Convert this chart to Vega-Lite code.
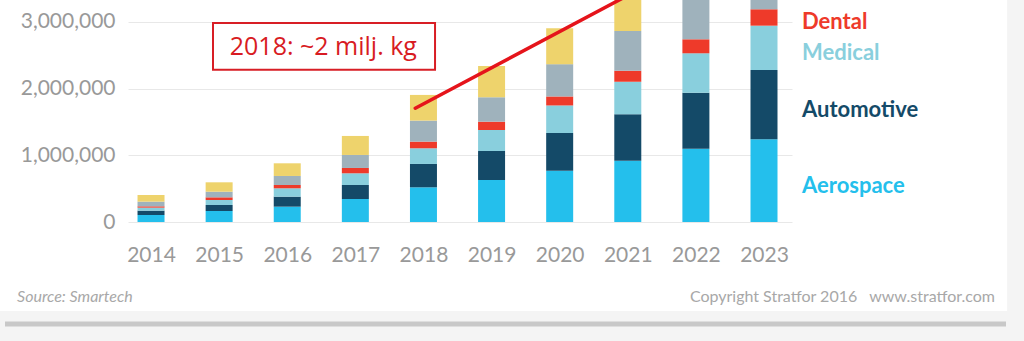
{
  "$schema": "https://vega.github.io/schema/vega-lite/v6.json",
  "width": 664,
  "height": 222,
  "autosize": {"type": "none"},
  "padding": {"left": 128, "top": 0, "right": 232, "bottom": 119},
  "background": "#ffffff",
  "config": {"view": {"stroke": null}, "font": "Lato"},
  "datasets": {
    "demand": [
      {"year": 2014, "segment": "Aerospace", "order": 1, "value": 105000},
      {"year": 2014, "segment": "Automotive", "order": 2, "value": 65000},
      {"year": 2014, "segment": "Medical", "order": 3, "value": 45000},
      {"year": 2014, "segment": "Dental", "order": 4, "value": 20000},
      {"year": 2014, "segment": "Industrial", "order": 5, "value": 70000},
      {"year": 2014, "segment": "Other", "order": 6, "value": 100000},
      {"year": 2015, "segment": "Aerospace", "order": 1, "value": 165000},
      {"year": 2015, "segment": "Automotive", "order": 2, "value": 90000},
      {"year": 2015, "segment": "Medical", "order": 3, "value": 75000},
      {"year": 2015, "segment": "Dental", "order": 4, "value": 40000},
      {"year": 2015, "segment": "Industrial", "order": 5, "value": 84000},
      {"year": 2015, "segment": "Other", "order": 6, "value": 141000},
      {"year": 2016, "segment": "Aerospace", "order": 1, "value": 230000},
      {"year": 2016, "segment": "Automotive", "order": 2, "value": 150000},
      {"year": 2016, "segment": "Medical", "order": 3, "value": 125000},
      {"year": 2016, "segment": "Dental", "order": 4, "value": 50000},
      {"year": 2016, "segment": "Industrial", "order": 5, "value": 135000},
      {"year": 2016, "segment": "Other", "order": 6, "value": 190000},
      {"year": 2017, "segment": "Aerospace", "order": 1, "value": 345000},
      {"year": 2017, "segment": "Automotive", "order": 2, "value": 210000},
      {"year": 2017, "segment": "Medical", "order": 3, "value": 175000},
      {"year": 2017, "segment": "Dental", "order": 4, "value": 80000},
      {"year": 2017, "segment": "Industrial", "order": 5, "value": 195000},
      {"year": 2017, "segment": "Other", "order": 6, "value": 285000},
      {"year": 2018, "segment": "Aerospace", "order": 1, "value": 520000},
      {"year": 2018, "segment": "Automotive", "order": 2, "value": 350000},
      {"year": 2018, "segment": "Medical", "order": 3, "value": 235000},
      {"year": 2018, "segment": "Dental", "order": 4, "value": 100000},
      {"year": 2018, "segment": "Industrial", "order": 5, "value": 315000},
      {"year": 2018, "segment": "Other", "order": 6, "value": 385000},
      {"year": 2019, "segment": "Aerospace", "order": 1, "value": 630000},
      {"year": 2019, "segment": "Automotive", "order": 2, "value": 434000},
      {"year": 2019, "segment": "Medical", "order": 3, "value": 315000},
      {"year": 2019, "segment": "Dental", "order": 4, "value": 125000},
      {"year": 2019, "segment": "Industrial", "order": 5, "value": 366000},
      {"year": 2019, "segment": "Other", "order": 6, "value": 469000},
      {"year": 2020, "segment": "Aerospace", "order": 1, "value": 768000},
      {"year": 2020, "segment": "Automotive", "order": 2, "value": 566000},
      {"year": 2020, "segment": "Medical", "order": 3, "value": 413000},
      {"year": 2020, "segment": "Dental", "order": 4, "value": 135000},
      {"year": 2020, "segment": "Industrial", "order": 5, "value": 484000},
      {"year": 2020, "segment": "Other", "order": 6, "value": 538000},
      {"year": 2021, "segment": "Aerospace", "order": 1, "value": 919000},
      {"year": 2021, "segment": "Automotive", "order": 2, "value": 696000},
      {"year": 2021, "segment": "Medical", "order": 3, "value": 488000},
      {"year": 2021, "segment": "Dental", "order": 4, "value": 165000},
      {"year": 2021, "segment": "Industrial", "order": 5, "value": 596000},
      {"year": 2021, "segment": "Other", "order": 6, "value": 650000},
      {"year": 2022, "segment": "Aerospace", "order": 1, "value": 1099000},
      {"year": 2022, "segment": "Automotive", "order": 2, "value": 840000},
      {"year": 2022, "segment": "Medical", "order": 3, "value": 590000},
      {"year": 2022, "segment": "Dental", "order": 4, "value": 210000},
      {"year": 2022, "segment": "Industrial", "order": 5, "value": 720000},
      {"year": 2022, "segment": "Other", "order": 6, "value": 760000},
      {"year": 2023, "segment": "Aerospace", "order": 1, "value": 1240000},
      {"year": 2023, "segment": "Automotive", "order": 2, "value": 1039000},
      {"year": 2023, "segment": "Medical", "order": 3, "value": 664000},
      {"year": 2023, "segment": "Dental", "order": 4, "value": 246000},
      {"year": 2023, "segment": "Industrial", "order": 5, "value": 850000},
      {"year": 2023, "segment": "Other", "order": 6, "value": 880000}
    ],
    "trend": [
      {"year": 2017.88, "value": 1705000},
      {"year": 2021.27, "value": 3543000}
    ]
  },
  "layer": [
    {
      "data": {"values": [{}]},
      "mark": {"type": "rect", "fill": "#f4f4f4", "clip": false},
      "encoding": {
        "x": {"datum": 2011.5, "type": "quantitative"},
        "x2": {"datum": 2027.2},
        "y": {"datum": -1334000, "type": "quantitative"},
        "y2": {"datum": -1950000}
      }
    },
    {
      "data": {"values": [{}]},
      "mark": {"type": "rect", "fill": "#f4f4f4", "clip": false},
      "encoding": {
        "x": {"datum": 2026.57, "type": "quantitative"},
        "x2": {"datum": 2027.2},
        "y": {"datum": 3600000, "type": "quantitative"},
        "y2": {"datum": -1950000}
      }
    },
    {
      "data": {"name": "demand"},
      "mark": {"type": "bar", "width": 27, "clip": true},
      "encoding": {
        "x": {
          "field": "year",
          "type": "quantitative",
          "scale": {"domain": [2013.662, 2023.411], "nice": false, "zero": false, "padding": 0},
          "axis": {
            "values": [2014, 2015, 2016, 2017, 2018, 2019, 2020, 2021, 2022, 2023],
            "format": "d",
            "title": null,
            "domain": false,
            "ticks": false,
            "grid": false,
            "labelFont": "Lato",
            "labelFontSize": 21,
            "labelColor": "#999999",
            "labelPadding": 22,
            "labelFlush": false,
            "labelOverlap": false
          }
        },
        "y": {
          "field": "value",
          "type": "quantitative",
          "stack": "zero",
          "scale": {"domain": [0, 3328000], "nice": false, "zero": true, "padding": 0},
          "axis": {
            "values": [0, 1000000, 2000000, 3000000],
            "format": ",d",
            "title": null,
            "domain": false,
            "ticks": false,
            "grid": true,
            "gridColor": "#e8e8e8",
            "gridWidth": 1,
            "labelFont": "Lato",
            "labelFontSize": 21,
            "labelColor": "#999999",
            "labelPadding": 13,
            "labelFlush": false
          }
        },
        "color": {
          "field": "segment",
          "type": "nominal",
          "scale": {
            "domain": ["Aerospace", "Automotive", "Medical", "Dental", "Industrial", "Other"],
            "range": ["#24bfec", "#144a68", "#89cfdd", "#ee3a2a", "#9fb2bc", "#eed36c"]
          },
          "legend": null
        },
        "order": {"field": "order", "type": "quantitative", "sort": "ascending"}
      }
    },
    {
      "data": {"name": "trend"},
      "mark": {"type": "line", "color": "#e5141b", "strokeWidth": 3.5, "strokeCap": "round", "clip": true},
      "encoding": {
        "x": {"field": "year", "type": "quantitative"},
        "y": {"field": "value", "type": "quantitative"}
      }
    },
    {
      "data": {"values": [{}]},
      "mark": {"type": "rect", "fill": "#ffffff", "stroke": "#d81e25", "strokeWidth": 2, "clip": false},
      "encoding": {
        "x": {"datum": 2014.91, "type": "quantitative"},
        "x2": {"datum": 2018.17},
        "y": {"datum": 2985000, "type": "quantitative"},
        "y2": {"datum": 2283000}
      }
    },
    {
      "data": {"values": [{"note": "2018: ~2 milj. kg"}]},
      "mark": {"type": "text", "color": "#d81b22", "font": "Open Sans", "fontSize": 25, "align": "center", "baseline": "middle", "clip": false},
      "encoding": {
        "x": {"datum": 2016.53, "type": "quantitative"},
        "y": {"datum": 2624000, "type": "quantitative"},
        "text": {"field": "note"}
      }
    },
    {
      "data": {"name": "demand"},
      "transform": [
        {"stack": "value", "groupby": ["year"], "sort": [{"field": "order", "order": "ascending"}], "as": ["v0", "v1"]},
        {"filter": "datum.year === 2023 && datum.order <= 4"},
        {"calculate": "(datum.v0 + datum.v1) / 2", "as": "mid"}
      ],
      "mark": {"type": "text", "align": "left", "baseline": "middle", "font": "Lato", "fontWeight": "bold", "fontSize": 22, "dy": 5, "clip": false},
      "encoding": {
        "x": {"datum": 2023.558, "type": "quantitative"},
        "y": {"field": "mid", "type": "quantitative"},
        "text": {"field": "segment"},
        "color": {"field": "segment", "type": "nominal", "legend": null}
      }
    },
    {
      "data": {"values": [{"t": "Source: Smartech"}]},
      "mark": {"type": "text", "align": "left", "baseline": "middle", "font": "Lato", "fontStyle": "italic", "fontSize": 16, "color": "#a8a8a8", "clip": false},
      "encoding": {
        "x": {"datum": 2012.033, "type": "quantitative"},
        "y": {"datum": -1124000, "type": "quantitative"},
        "text": {"field": "t"}
      }
    },
    {
      "data": {"values": [{"t": "Copyright Stratfor 2016 \u00a0\u00a0www.stratfor.com"}]},
      "mark": {"type": "text", "align": "right", "baseline": "middle", "font": "Lato", "fontSize": 16, "color": "#a8a8a8", "clip": false},
      "encoding": {
        "x": {"datum": 2026.392, "type": "quantitative"},
        "y": {"datum": -1124000, "type": "quantitative"},
        "text": {"field": "t"}
      }
    },
    {
      "data": {"values": [{}]},
      "mark": {"type": "rule", "color": "#c8c8c8", "strokeWidth": 5, "clip": false},
      "encoding": {
        "x": {"datum": 2011.856, "type": "quantitative"},
        "x2": {"datum": 2026.553},
        "y": {"datum": -1529000, "type": "quantitative"}
      }
    }
  ]
}
